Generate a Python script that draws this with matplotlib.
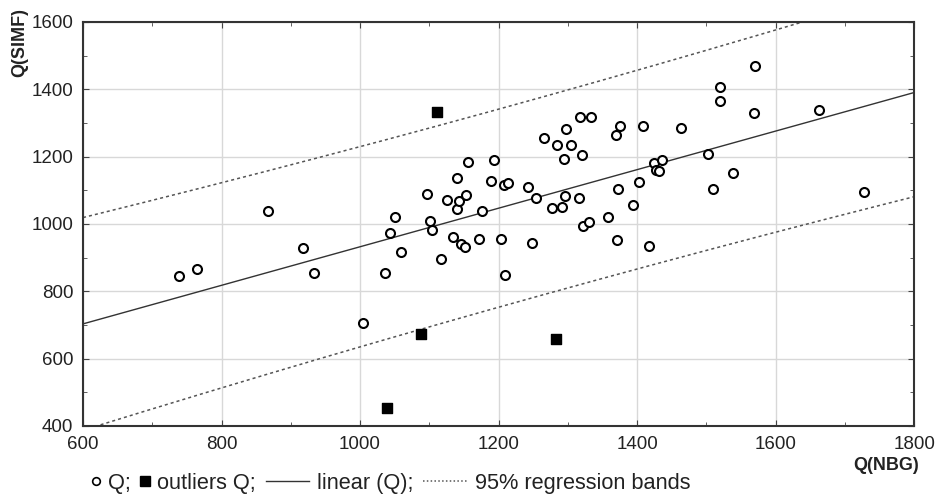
import matplotlib
matplotlib.use("Agg")
import matplotlib.pyplot as plt
from matplotlib.lines import Line2D
from matplotlib.legend_handler import HandlerLine2D
from matplotlib.ticker import MultipleLocator
import numpy as np

plt.rcParams['font.family'] = ['Liberation Sans', 'DejaVu Sans']

# Q(NBG) / Q(SIMF)
q_nbg = [738, 765, 867, 917, 933, 1005, 1036, 1043, 1050, 1059,
         1096, 1101, 1104, 1117, 1126, 1134, 1140, 1140, 1143, 1146,
         1151, 1153, 1156, 1172, 1176, 1189, 1194, 1203, 1208, 1213,
         1210, 1242, 1249, 1254, 1265, 1277, 1285, 1291, 1295, 1296,
         1298, 1304, 1316, 1317, 1320, 1322, 1330, 1333, 1358, 1370,
         1371, 1373, 1376, 1394, 1403, 1408, 1417, 1425, 1427, 1432,
         1436, 1463, 1502, 1509, 1520, 1520, 1539, 1569, 1570, 1662,
         1727]
q_simf = [846, 867, 1039, 928, 855, 705, 854, 974, 1021, 918,
          1089, 1009, 982, 897, 1072, 961, 1135, 1044, 1068, 940,
          930, 1087, 1183, 956, 1038, 1127, 1190, 956, 1116, 1122,
          847, 1110, 942, 1078, 1256, 1047, 1234, 1049, 1193, 1083,
          1281, 1234, 1076, 1318, 1206, 993, 1005, 1318, 1021, 1263,
          953, 1103, 1292, 1055, 1124, 1292, 935, 1182, 1160, 1156,
          1190, 1284, 1209, 1103, 1408, 1364, 1150, 1330, 1468, 1338,
          1094]

out_nbg = [1039, 1088, 1111, 1283]
out_simf = [452, 673, 1333, 657]

x_range = [600, 1800]
y_range = [400, 1600]


def regression_bands(x, y, xs, t=1.993):
    # linear fit with 95% prediction bands
    x = np.asarray(x, float)
    y = np.asarray(y, float)
    b, a = np.polyfit(x, y, 1)
    n = len(x)
    resid = y - (a + b * x)
    s = np.sqrt(np.sum(resid ** 2) / (n - 2))
    sxx = np.sum((x - x.mean()) ** 2)
    fit = a + b * xs
    half = t * s * np.sqrt(1 + 1 / n + (xs - x.mean()) ** 2 / sxx)
    return fit, fit - half, fit + half


class NarrowMarker(HandlerLine2D):
    # legend key that only takes the width of its marker
    def legend_artist(self, legend, orig_handle, fontsize, handlebox):
        handlebox.width = 0.42 * fontsize
        return super().legend_artist(legend, orig_handle, fontsize, handlebox)


fig = plt.figure(figsize=(9.38, 4.97), dpi=100)
ax = fig.add_axes([0.0885, 0.143, 0.886, 0.813])

# the fit uses every point, outliers included
xs = np.linspace(x_range[0], x_range[1], 200)
fit, lo, hi = regression_bands(q_nbg + out_nbg, q_simf + out_simf, xs)

ax.plot(xs, fit, color="#333333", lw=1.0, zorder=2)
ax.plot(xs, lo, color="#555555", lw=1.1, ls=(0, (2, 2)), zorder=2)
ax.plot(xs, hi, color="#555555", lw=1.1, ls=(0, (2, 2)), zorder=2)

ax.scatter(q_nbg, q_simf, s=42, facecolors="white", edgecolors="black",
           linewidths=1.5, zorder=3)
ax.scatter(out_nbg, out_simf, s=60, marker="s", color="black", zorder=3)

ax.set_xlim(x_range)
ax.set_ylim(y_range)
ax.xaxis.set_major_locator(MultipleLocator(200))
ax.yaxis.set_major_locator(MultipleLocator(200))
ax.xaxis.set_minor_locator(MultipleLocator(100))
ax.yaxis.set_minor_locator(MultipleLocator(100))
ax.grid(True, which="major", color="#d8d8d8", lw=1.0)
ax.set_axisbelow(True)
ax.tick_params(which="both", direction="in", top=True, right=True,
               colors="#444444", labelcolor="#222222", labelsize=13.5)
ax.tick_params(which="major", length=4, pad=7)
ax.tick_params(which="minor", length=3)
for sp in ax.spines.values():
    sp.set_color("#333333")
    sp.set_linewidth(1.5)

fig.text(0.021, 0.915, "Q(SIMF)", rotation=90, ha="center", va="center",
         fontsize=13, fontweight="bold", color="#222222")
fig.text(0.945, 0.064, "Q(NBG)", ha="center", va="center",
         fontsize=13, fontweight="bold", color="#222222")

h_q = Line2D([], [], ls="none", marker="o", ms=5.5, mfc="white", mec="black", mew=1.2)
h_out = Line2D([], [], ls="none", marker="s", ms=6.5, color="black")
h_fit = Line2D([], [], color="#333333", lw=1.0)
h_band = Line2D([], [], color="#555555", lw=1.1, ls=(0, (1, 1.5)))
handles = [h_q, h_out, h_fit, h_band]
labels = ["Q;", "outliers Q;", "linear (Q);", "95% regression bands"]
fig.legend(handles, labels, loc="center left", bbox_to_anchor=(0.097, 0.028),
           ncol=4, frameon=False, fontsize=15.7, handlelength=2.0,
           handletextpad=0.35, columnspacing=0.45, borderaxespad=0,
           borderpad=0, labelcolor="#222222",
           handler_map={h_q: NarrowMarker(), h_out: NarrowMarker()})

fig.savefig("out.png", dpi=100)
